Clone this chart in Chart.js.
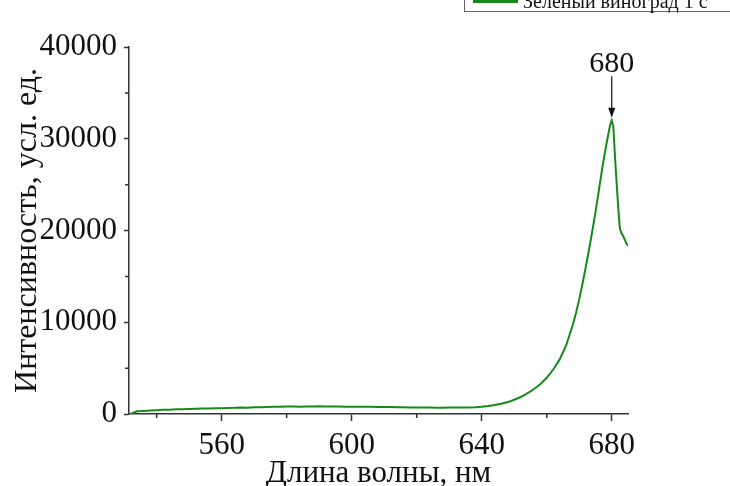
<!DOCTYPE html>
<html>
<head>
<meta charset="utf-8">
<script src="https://cdn.jsdelivr.net/npm/chart.js"></script>
<style>
  html, body { margin: 0; padding: 0; background: #fff; }
  #wrap { width: 730px; height: 486px; }
</style>
</head>
<body>
<div id="wrap"><canvas id="spectrumChart" width="730" height="486"></canvas></div>
<script>
// Данные спектра (длина волны, нм / интенсивность, усл. ед.)
const wavelength = [
  531.5, 532, 533, 534, 536, 538, 540, 542, 544, 546, 548, 550, 552, 554, 556, 558,
  560, 562, 564, 566, 568, 570, 572, 574, 576, 578, 580, 582, 584, 586, 588, 590,
  592, 594, 596, 598, 600, 602, 604, 606, 608, 610, 612, 614, 616, 618, 620, 622,
  624, 626, 628, 630, 632, 634, 636, 638, 640, 642, 644, 646, 648, 650, 652, 654,
  656, 658, 660, 662, 664, 666, 668, 669, 670, 671, 672, 673, 674, 675, 676, 677,
  678, 679, 679.5, 680, 680.5, 681, 681.5, 682, 682.5, 683, 683.5, 684, 684.5, 685
];
const intensity = [
  0, 20, 160, 290, 330, 380, 410, 450, 470, 510, 530, 550, 570, 590, 600, 620,
  630, 660, 670, 700, 690, 730, 740, 770, 780, 790, 810, 820, 800, 830, 820, 840,
  810, 820, 810, 800, 800, 790, 780, 790, 760, 760, 750, 740, 730, 720, 710, 700,
  700, 690, 690, 700, 700, 710, 720, 740, 790, 860, 970, 1110, 1300, 1550, 1850, 2250,
  2700, 3250, 3950, 4850, 5950, 7500, 9700, 11000, 12500, 14200, 16000, 17900, 19900, 22000, 24300, 26600,
  28700, 30600, 31500, 32000, 31300, 28000, 25200, 22500, 20200, 19700, 19400, 19000, 18600, 18300
];
const xTickValues = [560, 600, 640, 680];
const xMinorValues = [540, 580, 620, 660];
const yTickValues = [0, 10000, 20000, 30000, 40000];
const yMinorValues = [5000, 15000, 25000, 35000];
const seriesLabel = 'Зеленый виноград 1 с';
const peakLabel = '680';
const peakAt = 680;

const lineColor = '#17891a';
const axisColor = '#333';
const serif = '"Liberation Serif", "Times New Roman", serif';

// Малые деления, стрелка над пиком и легенда
const extrasPlugin = {
  id: 'extras',
  afterDraw(chart) {
    const ctx = chart.ctx;
    const x = chart.scales.x, y = chart.scales.y;
    const area = chart.chartArea;
    ctx.save();
    ctx.strokeStyle = axisColor;
    ctx.lineWidth = 1.5;
    ctx.beginPath();
    xMinorValues.forEach(v => {
      const px = x.getPixelForValue(v);
      ctx.moveTo(px, area.bottom);
      ctx.lineTo(px, area.bottom + 4);
    });
    yMinorValues.forEach(v => {
      const py = y.getPixelForValue(v);
      ctx.moveTo(area.left, py);
      ctx.lineTo(area.left - 4, py);
    });
    ctx.stroke();

    // стрелка
    const ax = x.getPixelForValue(peakAt);
    const yTop = y.getPixelForValue(36800);
    const yTip = y.getPixelForValue(32300);
    ctx.strokeStyle = '#111';
    ctx.fillStyle = '#111';
    ctx.lineWidth = 1.2;
    ctx.beginPath();
    ctx.moveTo(ax, yTop);
    ctx.lineTo(ax, yTip - 6);
    ctx.stroke();
    ctx.beginPath();
    ctx.moveTo(ax, yTip);
    ctx.lineTo(ax - 3.5, yTip - 10);
    ctx.lineTo(ax + 3.5, yTip - 10);
    ctx.closePath();
    ctx.fill();
    ctx.font = '30px ' + serif;
    ctx.textAlign = 'center';
    ctx.textBaseline = 'alphabetic';
    ctx.fillText(peakLabel, ax, y.getPixelForValue(37300));

    // легенда (обрезана сверху)
    ctx.strokeStyle = '#666';
    ctx.lineWidth = 1;
    ctx.strokeRect(464.5, -30.5, 300, 42);
    ctx.strokeStyle = lineColor;
    ctx.lineWidth = 3;
    ctx.beginPath();
    ctx.moveTo(473, 1.5);
    ctx.lineTo(518, 1.5);
    ctx.stroke();
    ctx.fillStyle = '#111';
    ctx.font = '20px ' + serif;
    ctx.textAlign = 'left';
    ctx.fillText(seriesLabel, 523, 8);
    ctx.restore();
  }
};

new Chart(document.getElementById('spectrumChart'), {
  type: 'line',
  data: {
    labels: wavelength,
    datasets: [{
      label: seriesLabel,
      data: wavelength.map((w, i) => ({ x: w, y: intensity[i] })),
      borderColor: lineColor,
      borderWidth: 2,
      pointRadius: 0,
      tension: 0,
      fill: false
    }]
  },
  options: {
    responsive: false,
    animation: false,
    layout: { padding: { top: 47, right: 102, left: 0, bottom: 0 } },
    plugins: { legend: { display: false }, tooltip: { enabled: false } },
    scales: {
      x: {
        type: 'linear',
        min: 531.5,
        max: 685,
        afterBuildTicks: s => { s.ticks = xTickValues.map(v => ({ value: v })); },
        afterFit: s => { s.height = 72; },
        grid: { display: true, drawOnChartArea: false, tickLength: 7, tickColor: axisColor, tickWidth: 1.5 },
        border: { display: true, color: axisColor, width: 1.5 },
        ticks: { color: '#111', padding: 6, maxRotation: 0, font: { family: serif, size: 31 } },
        title: { display: true, text: 'Длина волны, нм', color: '#111', padding: 0,
                 font: { family: serif, size: 31, lineHeight: 0.8 } }
      },
      y: {
        min: 0,
        max: 40000,
        afterBuildTicks: s => { s.ticks = yTickValues.map(v => ({ value: v })); },
        afterFit: s => { s.width = 129; },
        grid: { display: true, drawOnChartArea: false, tickLength: 5, tickColor: axisColor, tickWidth: 1.5 },
        border: { display: true, color: axisColor, width: 1.5 },
        ticks: { color: '#111', padding: 7, font: { family: serif, size: 31 },
                 callback: v => String(v) },
        title: { display: true, text: 'Интенсивность, усл. ед.', color: '#111',
                 padding: { top: 8, bottom: 0 }, font: { family: serif, size: 32 } }
      }
    }
  },
  plugins: [extrasPlugin]
});
</script>
</body>
</html>
